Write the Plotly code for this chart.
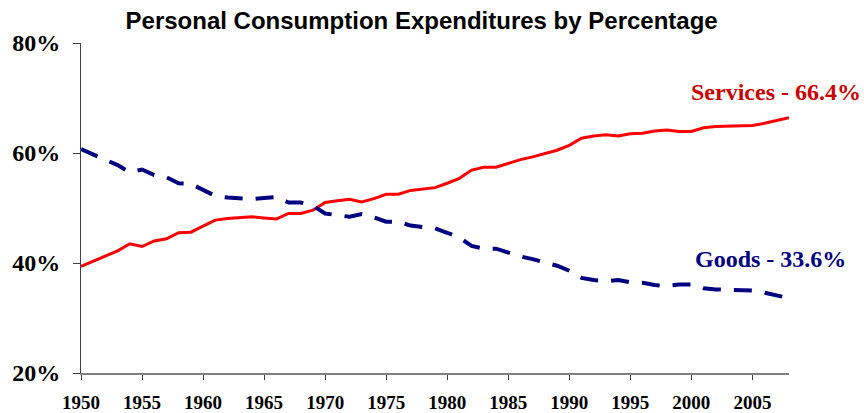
import plotly.graph_objects as go

years = list(range(1950, 2009))
services = [39.4, 40.3, 41.2, 42.2, 43.5, 43.0, 44.0, 44.4, 45.5, 45.6,
            46.7, 47.8, 48.1, 48.2, 48.4, 48.2, 48.0, 49.0, 49.0, 49.6,
            51.0, 51.3, 51.6, 51.1, 51.7, 52.5, 52.5, 53.2, 53.5, 53.7,
            54.5, 55.4, 56.9, 57.4, 57.4, 58.1, 58.8, 59.3, 59.9, 60.5,
            61.4, 62.7, 63.1, 63.3, 63.1, 63.5, 63.6, 64.0, 64.2, 63.9,
            63.9, 64.6, 64.8, 64.9, 64.9, 65.0, 65.4, 65.9, 66.4]
goods = [60.7, 59.7, 58.8, 57.8, 56.5, 57.0, 56.0, 55.6, 54.5, 54.4,
         53.3, 52.2, 51.9, 51.8, 51.6, 51.8, 52.0, 51.0, 51.0, 50.4,
         49.0, 48.7, 48.4, 48.9, 48.3, 47.5, 47.5, 46.8, 46.5, 46.3,
         45.5, 44.6, 43.1, 42.6, 42.6, 41.9, 41.2, 40.7, 40.1, 39.5,
         38.6, 37.3, 36.9, 36.7, 36.9, 36.5, 36.4, 36.0, 35.8, 36.1,
         36.1, 35.4, 35.2, 35.1, 35.1, 35.0, 34.6, 34.1, 33.6]
x_ticks = list(range(1950, 2009, 5))
y_ticks = [20, 40, 60, 80]
y_tick_labels = ["20%", "40%", "60%", "80%"]

fig = go.Figure()
fig.add_trace(go.Scatter(x=years, y=services, mode="lines", name="Services",
                         line=dict(color="#FF0000", width=3)))
fig.add_trace(go.Scatter(x=years, y=goods, mode="lines", name="Goods",
                         line=dict(color="#000080", width=4, dash="18px,13px")))

fig.update_layout(
    width=864, height=413,
    margin=dict(l=81, r=75, t=43, b=40),
    paper_bgcolor="white", plot_bgcolor="white",
    showlegend=False,
    title=dict(text="<b>Personal Consumption Expenditures by Percentage</b>",
               font=dict(family="Liberation Sans, Arial", size=24, color="black"),
               x=0.488, xref="container", xanchor="center",
               y=1 - 21 / 413, yref="container", yanchor="middle", automargin=False),
    xaxis=dict(range=[1950, 2008], tickmode="array", tickvals=x_ticks,
               ticktext=[str(v) for v in x_ticks], automargin=False,
               showgrid=False, zeroline=False, showline=True,
               linecolor="#808080", linewidth=1.5,
               ticks="outside", ticklen=5, tickcolor="#404040", tickwidth=1,
               ticklabelstandoff=6,
               tickfont=dict(family="Liberation Serif, Times New Roman", size=19, color="black",
                             weight="bold")),
    yaxis=dict(range=[20, 80], tickmode="array", tickvals=y_ticks, ticktext=y_tick_labels,
               automargin=False,
               showgrid=False, zeroline=False, showline=True,
               linecolor="#404040", linewidth=1,
               ticks="outside", ticklen=7, tickcolor="#404040", tickwidth=1,
               ticklabelstandoff=8,
               tickfont=dict(family="Liberation Serif, Times New Roman", size=24, color="black",
                             weight="bold")),
)

fig.add_annotation(text="<b>Services - 66.4%</b>", xref="paper", yref="paper",
                   x=(863 - 81) / 708, y=(373 - 92) / 330, xanchor="right", yanchor="middle",
                   showarrow=False,
                   font=dict(family="Liberation Serif, Times New Roman", size=24, color="#CC0000"))
fig.add_annotation(text="<b>Goods - 33.6%</b>", xref="paper", yref="paper",
                   x=(848 - 81) / 708, y=(373 - 259) / 330, xanchor="right", yanchor="middle",
                   showarrow=False,
                   font=dict(family="Liberation Serif, Times New Roman", size=24, color="#000080"))

fig.write_html("out.html", config={"displayModeBar": False},
               post_script="document.body.style.margin='0';document.body.style.overflow='hidden';")
